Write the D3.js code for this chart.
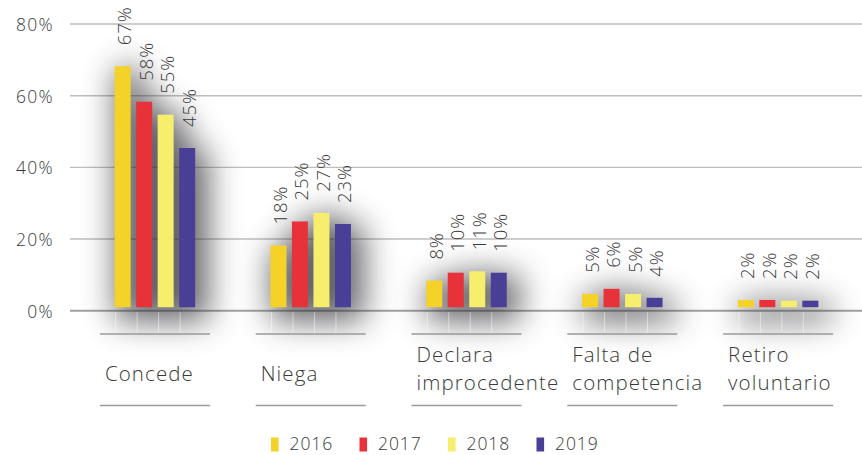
<!DOCTYPE html>
<html>
<head>
<meta charset="utf-8">
<script src="https://cdn.jsdelivr.net/npm/d3@7"></script>
<style>
  html, body { margin: 0; padding: 0; background: #fff; }
  svg { display: block; }
  text { font-family: "Open Sans", "Lato", sans-serif; font-weight: 300; fill: #3a3a3a; }
</style>
</head>
<body>
<svg id="chart" width="862" height="455"></svg>
<script>
// ---- data ----
const categories = ["Concede", "Niega", "Declara\nimprocedente", "Falta de\ncompetencia", "Retiro\nvoluntario"];
const years = ["2016", "2017", "2018", "2019"];
const values2016 = [68.2, 18.2, 8.4, 4.7, 3.0];
const values2017 = [58.3, 24.9, 10.6, 6.1, 3.0];
const values2018 = [54.7, 27.3, 11.0, 4.7, 2.8];
const values2019 = [45.4, 24.2, 10.6, 3.6, 2.8];
const labels2016 = ["67%", "18%", "8%", "5%", "2%"];
const labels2017 = ["58%", "25%", "10%", "6%", "2%"];
const labels2018 = ["55%", "27%", "11%", "5%", "2%"];
const labels2019 = ["45%", "23%", "10%", "4%", "2%"];
const yTicks = [0, 20, 40, 60, 80];
const colors = ["#F4D227", "#E7323A", "#F6EE6C", "#4A3F97"];

const seriesValues = [values2016, values2017, values2018, values2019];
const seriesLabels = [labels2016, labels2017, labels2018, labels2019];

// ---- layout ----
const svg = d3.select("#chart");
const y = d3.scaleLinear().domain([0, 80]).range([310.7, 24]);
const x = d3.scaleBand().domain(categories).range([77, 856]).paddingInner(0);
const xs = d3.scaleBand().domain(years).range([-40.25, 40.25]).paddingInner(0.256).paddingOuter(0);
const cx = c => x(c) + x.bandwidth() / 2;
const barLift = 3.5;

// gridlines
svg.append("g").selectAll("line").data(yTicks).join("line")
  .attr("x1", 70).attr("x2", 862)
  .attr("y1", d => y(d)).attr("y2", d => y(d))
  .attr("stroke", d => d === 0 ? "#a0a0a0" : "#bdbdbd")
  .attr("stroke-width", d => d === 0 ? 2 : 1.4);

// y tick labels
svg.append("g").selectAll("text").data(yTicks).join("text")
  .attr("x", 54).attr("y", d => y(d))
  .attr("text-anchor", "end").attr("dominant-baseline", "central")
  .style("font-size", "17.5px").style("letter-spacing", "1.3px")
  .text(d => d + "%");

// flatten data
const flat = [];
categories.forEach((c, i) => {
  years.forEach((yr, j) => {
    flat.push({ c, yr, j, v: seriesValues[j][i], label: seriesLabels[j][i] });
  });
});

// soft shadow (CSS blur on a dark copy of the bars)
const shadowG = svg.append("g")
  .attr("transform", "translate(7,6)")
  .style("filter", "blur(16px)")
  .attr("opacity", 0.72);
shadowG.selectAll("rect").data(flat).join("rect")
  .attr("x", d => cx(d.c) + xs(d.yr) - 6)
  .attr("width", xs.bandwidth() + 12)
  .attr("y", d => y(d.v) - 4)
  .attr("height", d => y(0) - barLift - y(d.v) + 12)
  .attr("fill", "#2c2c31");

// bars
svg.append("g").selectAll("rect").data(flat).join("rect")
  .attr("x", d => cx(d.c) + xs(d.yr))
  .attr("width", xs.bandwidth())
  .attr("y", d => y(d.v))
  .attr("height", d => y(0) - barLift - y(d.v))
  .attr("fill", d => colors[d.j]);

// faint light lines below the base within the shadow
svg.append("g").selectAll("line").data(flat).join("line")
  .attr("x1", d => cx(d.c) + xs(d.yr) + 1).attr("x2", d => cx(d.c) + xs(d.yr) + 1)
  .attr("y1", y(0) + 1.5).attr("y2", y(0) + 22)
  .attr("stroke", "#fff").attr("stroke-opacity", 0.45).attr("stroke-width", 1);

// value labels (rotated)
svg.append("g").selectAll("text").data(flat).join("text")
  .attr("transform", d => `translate(${cx(d.c) + xs(d.yr) + xs.bandwidth() / 2 + 1},${y(d.v) - 21}) rotate(-90)`)
  .attr("text-anchor", "start").attr("dominant-baseline", "central")
  .style("font-size", "18.5px").style("letter-spacing", "0.9px")
  .text(d => d.label);

// category lines & labels
const catG = svg.append("g").selectAll("g").data(categories).join("g");
catG.append("line")
  .attr("x1", d => cx(d) - 55).attr("x2", d => cx(d) + 55)
  .attr("y1", 334).attr("y2", 334)
  .attr("stroke", "#9a9a9a").attr("stroke-width", 1.5);
catG.append("line")
  .attr("x1", d => cx(d) - 55).attr("x2", d => cx(d) + 55)
  .attr("y1", 405.5).attr("y2", 405.5)
  .attr("stroke", "#9a9a9a").attr("stroke-width", 1.5);
catG.each(function (d) {
  const lines = d.split("\n");
  const t = d3.select(this).append("text")
    .attr("x", cx(d) - 50)
    .style("font-size", "20.5px").style("letter-spacing", "1.1px");
  if (lines.length === 1) {
    t.attr("y", 381).text(lines[0]);
  } else {
    lines.forEach((l, k) => {
      t.append("tspan").attr("x", cx(d) - 50).attr("y", 362 + k * 28).text(l);
    });
  }
});

// legend
const lg = svg.append("g").attr("transform", "translate(271,0)");
const li = lg.selectAll("g").data(years).join("g")
  .attr("transform", (d, i) => `translate(${i * 88.5},0)`);
li.append("rect").attr("x", 0).attr("y", 437.5).attr("width", 7.6).attr("height", 14)
  .attr("fill", (d, i) => colors[i]);
li.append("text").attr("x", 18.5).attr("y", 450)
  .style("font-size", "17.5px").style("letter-spacing", "0.9px")
  .text(d => d);
</script>
</body>
</html>
